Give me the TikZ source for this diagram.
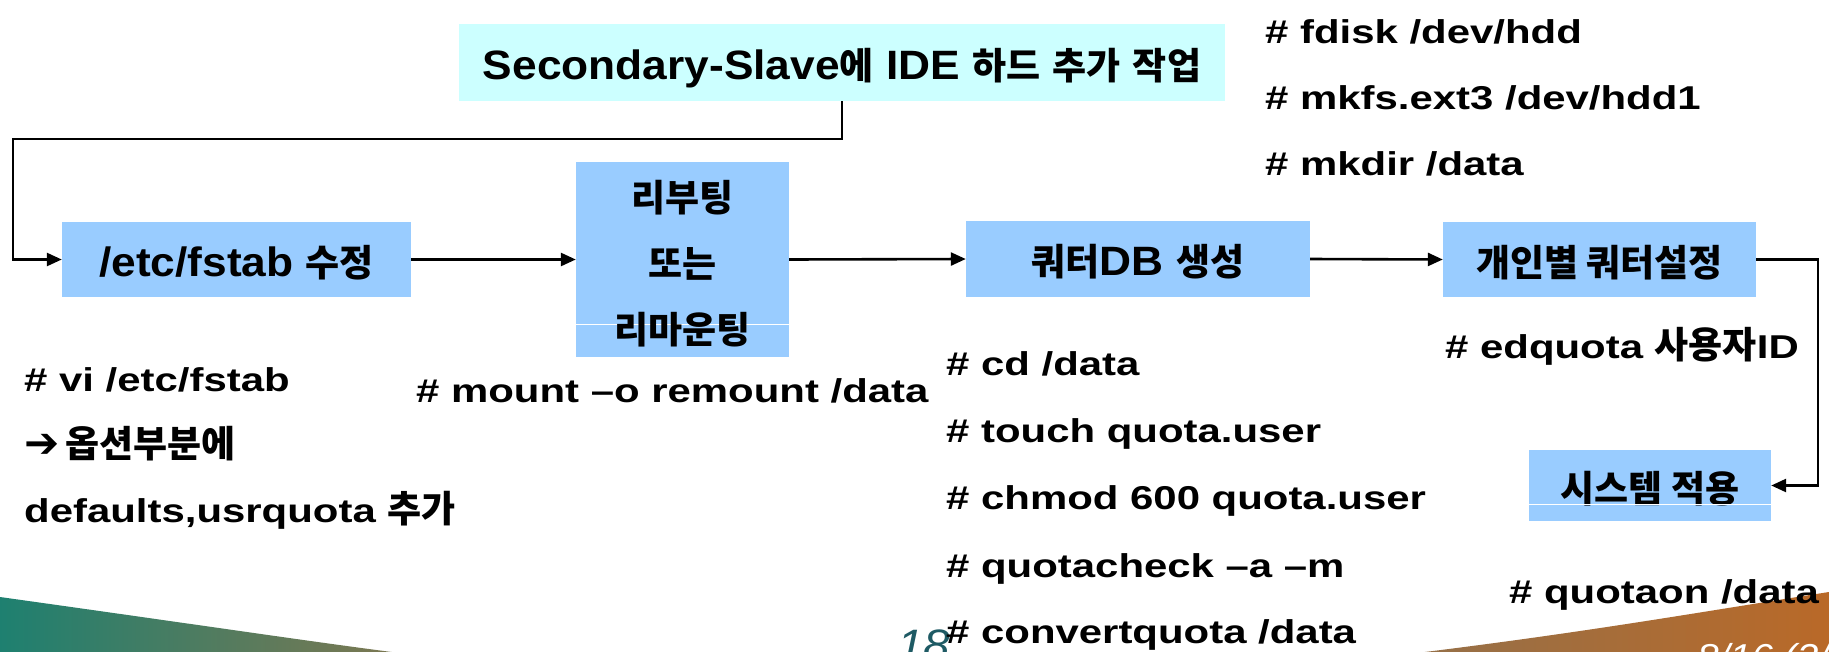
\documentclass[tikz,border=0pt]{standalone}
\usepackage{fontspec}
\setmainfont{Liberation Sans}[FakeStretch=1.08]
\newfontfamily\widefont{Liberation Sans}[FakeStretch=1.27]
\newfontfamily\krfont{Noto Sans CJK KR}
\newfontfamily\dvfont{DejaVu Sans}
\usetikzlibrary{arrows.meta}
\newcommand\kor[1]{{\krfont\bfseries\fontsize{37pt}{37pt}\selectfont #1}}
\definecolor{boxblue}{HTML}{99CCFF}
\definecolor{boxcyan}{HTML}{CCFFFF}
\definecolor{tealc}{RGB}{30,128,112}
\definecolor{olivec}{RGB}{122,120,82}
\definecolor{brownc}{RGB}{150,112,72}
\definecolor{orangec}{RGB}{185,105,40}
\definecolor{pagenum}{RGB}{30,90,100}
\pgfdeclarehorizontalshading{bottomband}{100bp}{color(0bp)=(tealc); color(25bp)=(tealc); color(35.5bp)=(olivec); color(64bp)=(brownc); color(75bp)=(orangec); color(100bp)=(orangec)}
\begin{document}
\begin{tikzpicture}[x=1pt,y=-1pt,
  box/.style={fill=boxblue, inner sep=0pt, text height=40pt, text depth=7pt,
    font=\bfseries\fontsize{41pt}{44pt}\selectfont},
  cmd/.style={anchor=base west, inner sep=0pt,
    font=\widefont\bfseries\fontsize{33pt}{36pt}\selectfont},
  kline/.style={anchor=base, inner sep=0pt, font=\bfseries},
  conn/.style={line width=2.6pt, line join=miter, -{Triangle[length=15pt,width=13pt]}},
  seam/.style={white, line width=1pt}]
\useasboundingbox (0,0) rectangle (1829,651);
% bottom band
\shade[shading=bottomband] (0,597) .. controls (200,625) and (300,640) .. (384,651)
  .. controls (600,680) and (1200,680) .. (1433,651)
  .. controls (1600,630) and (1700,612) .. (1829,592)
  -- (1829,800) -- (0,800) -- cycle;
\node[anchor=north west, inner sep=0pt, text=pagenum, font=\itshape\fontsize{44pt}{44pt}\selectfont] (pg) at (897,630) {18};
\node[anchor=north west, inner sep=0pt, text=white, font=\itshape\fontsize{36pt}{36pt}\selectfont] (sig) at (1697,643) {8/16 (3/};
% boxes
\node[box, fill=boxcyan, minimum width=766pt, minimum height=77pt] (top) at (842,62.5)
  {Secondary-Slave\kor{에} IDE \kor{하드} \kor{추가} \kor{작업}};
\node[box, minimum width=349pt, minimum height=75pt] (fstab) at (236.5,259.5) {/etc/fstab \kor{수정}};
\node[fill=boxblue, inner sep=0pt, minimum width=213pt, minimum height=195pt] (reboot) at (682.5,259.5) {};
\draw[seam] (reboot.west |- 0,324) -- (reboot.east |- 0,324);
\node[kline] (rb1) at (682.5,211) {\kor{리부팅}};
\node[kline] (rb2) at (682.5,277) {\kor{또는}};
\node[kline] (rb3) at (682.5,343) {\kor{리마운팅}};
\node[box, minimum width=344pt, minimum height=76pt] (qdb) at (1138,259) {\kor{쿼터}DB \kor{생성}};
\node[box, minimum width=313pt, minimum height=75pt] (ind) at (1599.5,259.5) {\kor{개인별 쿼터설정}};
\node[box, minimum width=242pt, minimum height=71pt] (sys) at (1650,485.5) {\kor{시스템 적용}};
\draw[seam] (sys.west |- 0,504) -- (sys.east |- 0,504);
% connectors
\coordinate (tl) at (13,139);
\coordinate (rc) at (1818,259.5);
\draw[conn] (top.south) |- (tl) |- (fstab.west);
\draw[conn] (fstab.east) -- (reboot.west);
\draw[conn] (reboot.east) -- (qdb.west);
\draw[conn] (qdb.east) -- (ind.west);
\draw[conn] (ind.east) -- (rc) |- (sys.east);
% command texts
\node[cmd] (fd1) at (1265,43) {\# fdisk /dev/hdd};
\node[cmd] (fd2) at (1265,109) {\# mkfs.ext3 /dev/hdd1};
\node[cmd] (fd3) at (1265,175) {\# mkdir /data};
\node[cmd] (vi1) at (24,391) {\# vi /etc/fstab};
\node[cmd] (vi2) at (24,457) {{\dvfont\bfseries\fontsize{42pt}{42pt}\selectfont ➔}\kern6pt\kor{옵션부분에}};
\node[cmd] (vi3) at (24,522) {defaults,usrquota \kor{추가}};
\node[cmd] (mnt) at (416,402) {\# mount –o remount /data};
\node[cmd] (cd1) at (946,375) {\# cd /data};
\node[cmd] (cd2) at (946,442) {\# touch quota.user};
\node[cmd] (cd3) at (946,509) {\# chmod 600 quota.user};
\node[cmd] (cd4) at (946,577) {\# quotacheck –a –m};
\node[cmd] (cd5) at (946,643) {\# convertquota /data};
\node[cmd] (edq) at (1445,358) {\# edquota \kor{사용자}ID};
\node[cmd] (qon) at (1509,603) {\# quotaon /data};
\end{tikzpicture}
\end{document}
